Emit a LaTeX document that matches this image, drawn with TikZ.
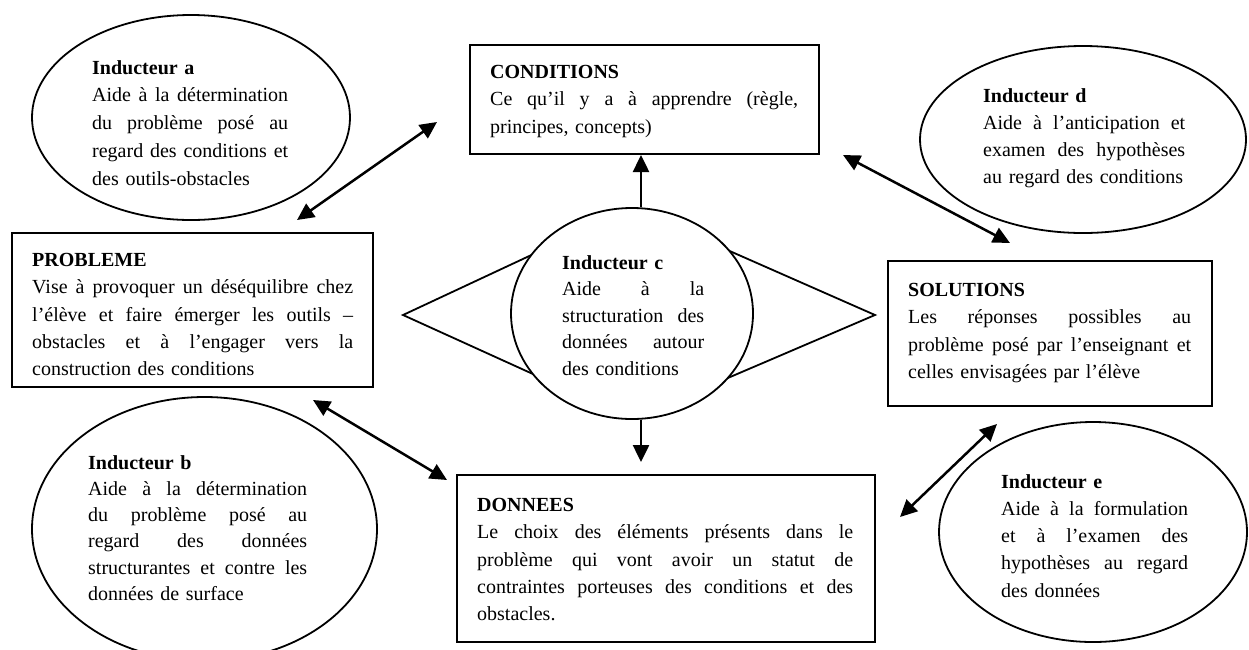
\documentclass[tikz,border=0pt]{standalone}
\usepackage{fontspec}
\setmainfont{Liberation Serif}
\usetikzlibrary{arrows.meta,shapes.geometric}
\newcommand\curw{100pt}
\newcommand\firstline[1]{\hbox{#1}}
\newcommand\justline[1]{\par\hbox to\curw{\spaceskip=\fontdimen2\font plus 1fil minus 0.1em\relax #1}}
\newcommand\plainline[1]{\par\hbox{#1}}
\begin{document}
\begin{tikzpicture}[x=1pt,y=-1pt,
  box/.style={draw, line width=2pt, inner sep=0pt},
  ell/.style={draw, ellipse, line width=1.8pt, inner sep=0pt},
  txt/.style={anchor=north west, inner sep=0pt, font=\fontsize{20}{27.3}\selectfont,
    text width=#1, execute at begin node={\renewcommand\curw{#1}}},
  lead/.style={font=\fontsize{20}{#1}\selectfont},
  tip/.tip={Triangle[length=17pt,width=16pt]},
  arr/.style={line width=2.5pt, tip-tip},
  uarr/.style={line width=2.5pt, -tip}]
\useasboundingbox (0,0) rectangle (1249,649);
\fill[white] (0,0) rectangle (1249,649);
\clip (0,0) rectangle (1249,649);

% boxes
\node[box, minimum width=349pt, minimum height=109pt] (cond) at (644.5,99.5) {};
\node[box, minimum width=361pt, minimum height=154pt] (prob) at (192.5,310) {};
\node[box, minimum width=324pt, minimum height=145pt] (sol) at (1050,333.5) {};
\node[box, minimum width=418pt, minimum height=167pt] (donn) at (666,558.5) {};

% ellipses
\node[ell, minimum width=318pt, minimum height=205pt] (ia) at (191,117.5) {};
\node[ell, minimum width=345pt, minimum height=264pt] (ib) at (204.5,529) {};
\node[ell, minimum width=326pt, minimum height=187pt] (id) at (1083,139.5) {};
\node[ell, minimum width=308pt, minimum height=220pt] (ie) at (1093,532) {};

% diamond and central circle
\coordinate (dl) at (403,315);
\coordinate (dt) at (632,208);
\coordinate (dr) at (875,315);
\coordinate (db) at (632,419);
\draw[line width=1.8pt] (dl) -- (dt) -- (dr) -- (db) -- cycle;
\node[ell, fill=white, minimum width=242pt, minimum height=211pt] (ic) at (632,313.5) {};

% texts
\node[txt=308pt] (condt) at (490,65) {%
\firstline{\textbf{CONDITIONS}}%
\justline{Ce qu’il y a à apprendre (règle,}%
\plainline{principes, concepts)}};

\node[txt=321pt] (probt) at (32,253) {%
\firstline{\textbf{PROBLEME}}%
\justline{Vise à provoquer un déséquilibre chez}%
\justline{l’élève et faire émerger les outils –}%
\justline{obstacles et à l’engager vers la}%
\plainline{construction des conditions}};

\node[txt=283pt] (solt) at (908,283) {%
\firstline{\textbf{SOLUTIONS}}%
\justline{Les réponses possibles au}%
\justline{problème posé par l’enseignant et}%
\plainline{celles envisagées par l’élève}};

\node[txt=376pt] (donnt) at (477,498) {%
\firstline{\textbf{DONNEES}}%
\justline{Le choix des éléments présents dans le}%
\justline{problème qui vont avoir un statut de}%
\justline{contraintes porteuses des conditions et des}%
\plainline{obstacles.}};

\node[txt=196pt, lead=27.9] (iat) at (92,60) {%
\firstline{\textbf{Inducteur a}}%
\justline{Aide à la détermination}%
\justline{du problème posé au}%
\justline{regard des conditions et}%
\plainline{des outils-obstacles}};

\node[txt=219pt, lead=26.3] (ibt) at (88,455) {%
\firstline{\textbf{Inducteur b}}%
\justline{Aide à la détermination}%
\justline{du problème posé au}%
\justline{regard des données}%
\justline{structurantes et contre les}%
\plainline{données de surface}};

\node[txt=142pt, lead=26.6] (ict) at (562,255) {%
\firstline{\textbf{Inducteur c}}%
\justline{Aide à la}%
\justline{structuration des}%
\justline{données autour}%
\plainline{des conditions}};

\node[txt=202pt] (idt) at (983,88) {%
\firstline{\textbf{Inducteur d}}%
\justline{Aide à l’anticipation et}%
\justline{examen des hypothèses}%
\plainline{au regard des conditions}};

\node[txt=187pt] (iet) at (1001,474) {%
\firstline{\textbf{Inducteur e}}%
\justline{Aide à la formulation}%
\justline{et à l’examen des}%
\justline{hypothèses au regard}%
\plainline{des données}};

% connector end points
\coordinate (a1) at (437,122);
\coordinate (a2) at (297,220);
\coordinate (b1) at (313,400);
\coordinate (b2) at (447,480);
\coordinate (d1) at (843,155);
\coordinate (d2) at (1010,243);
\coordinate (e1) at (997,424);
\coordinate (e2) at (900,517);
\coordinate (cu) at (641,155);
\coordinate (cd) at (641,462);

\draw[arr] (a2) -- (a1);
\draw[arr] (b1) -- (b2);
\draw[arr] (d1) -- (d2);
\draw[arr] (e1) -- (e2);
\draw[uarr] (ic.north -| cu) -- (cu);
\draw[uarr] (ic.south -| cd) -- (cd);
\end{tikzpicture}
\end{document}
